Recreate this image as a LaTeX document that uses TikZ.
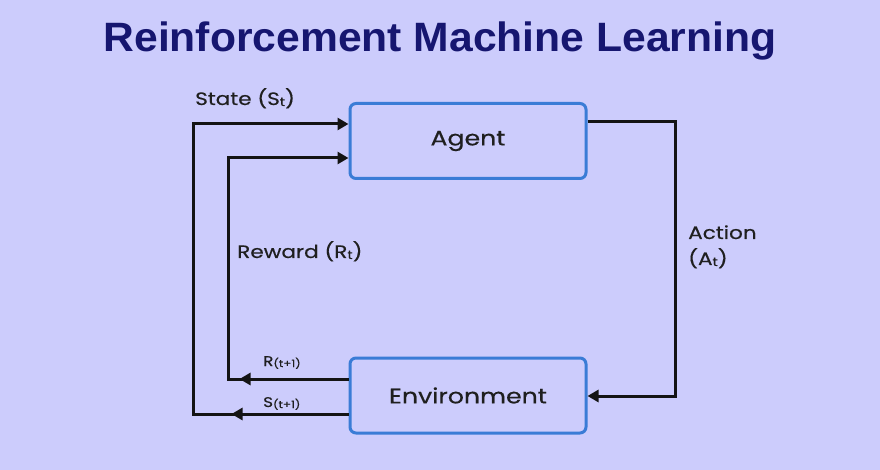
\documentclass[tikz,border=0pt]{standalone}
\usepackage{fontspec}
\setmainfont{Poppins}
\newfontfamily\lblfont{Poppins}[FakeStretch=1.2, FakeBold=0.4]
\newfontfamily\titlefont{Liberation Sans}[FakeStretch=1.04]
\usetikzlibrary{arrows.meta,decorations.markings}
\definecolor{bg}{RGB}{204,204,252}
\definecolor{titlec}{RGB}{22,22,112}
\definecolor{boxc}{RGB}{58,124,214}
\definecolor{linec}{RGB}{20,20,20}
\newcommand{\sbt}[1]{\raisebox{-1pt}{\fontsize{12}{12}\selectfont #1}}
\newcommand{\ssbt}[1]{\raisebox{-1pt}{\fontsize{10}{10}\selectfont #1}}
\tikzset{
  blockbox/.style={draw=boxc, line width=3pt, rounded corners=6pt, fill=bg,
    minimum width=236pt, minimum height=75pt, font=\lblfont\fontsize{21}{24}\selectfont, text=black!88},
  conn/.style={draw=linec, line width=3pt},
  tipend/.style={-{Triangle[length=11pt,width=12pt]}},
  midtip/.style={postaction={decorate,decoration={markings,
      mark=at position #1 with {\arrow{Triangle[length=11pt,width=12pt]}}}}},
  lbl/.style={anchor=base west, inner sep=0pt, font=\lblfont\fontsize{18}{21}\selectfont, text=black!88},
  slbl/.style={anchor=base west, inner sep=0pt, font=\lblfont\fontsize{14}{16}\selectfont, text=black!88},
}
\begin{document}
\begin{tikzpicture}[x=1pt,y=-1pt]
\path[fill=bg] (0,0) rectangle (880,470);
\useasboundingbox (0,0) rectangle (880,470);
\node[anchor=base, inner sep=0pt, text=titlec, font=\titlefont\bfseries\fontsize{41}{48}\selectfont] (title) at (440,52) {Reinforcement Machine Learning};
\node[blockbox] (agent) at (468,141) {Agent};
\node[blockbox] (env) at (468,395.5) {Environment};
\coordinate (sc1) at (193,414);
\coordinate (sc2) at (193,124);
\coordinate (rc1) at (228,379);
\coordinate (rc2) at (228,158);
\coordinate (ac1) at (675,122);
\coordinate (ac2) at (675,396);
% state loop
\draw[conn, tipend, midtip=117pt] (env.west |- sc1) -- (sc1) -- (sc2) -- (agent.west |- sc2);
% reward loop
\draw[conn, tipend, midtip=109pt] (env.west |- rc1) -- (rc1) -- (rc2) -- (agent.west |- rc2);
% action
\draw[conn, tipend] (agent.east |- ac1) -- (ac1) -- (ac2) -- (env.east |- ac2);
\node[lbl] (lstate) at (195,105) {State (S\sbt{t})};
\node[lbl] (lreward) at (237,258) {Reward (R\sbt{t})};
\node[lbl] (laction) at (688,239) {Action};
\node[lbl] (lat) at (688,265) {(A\sbt{t})};
\node[slbl] (lr1) at (263,366) {R\ssbt{(t+1)}};
\node[slbl] (ls1) at (263,407) {S\ssbt{(t+1)}};
\end{tikzpicture}
\end{document}
